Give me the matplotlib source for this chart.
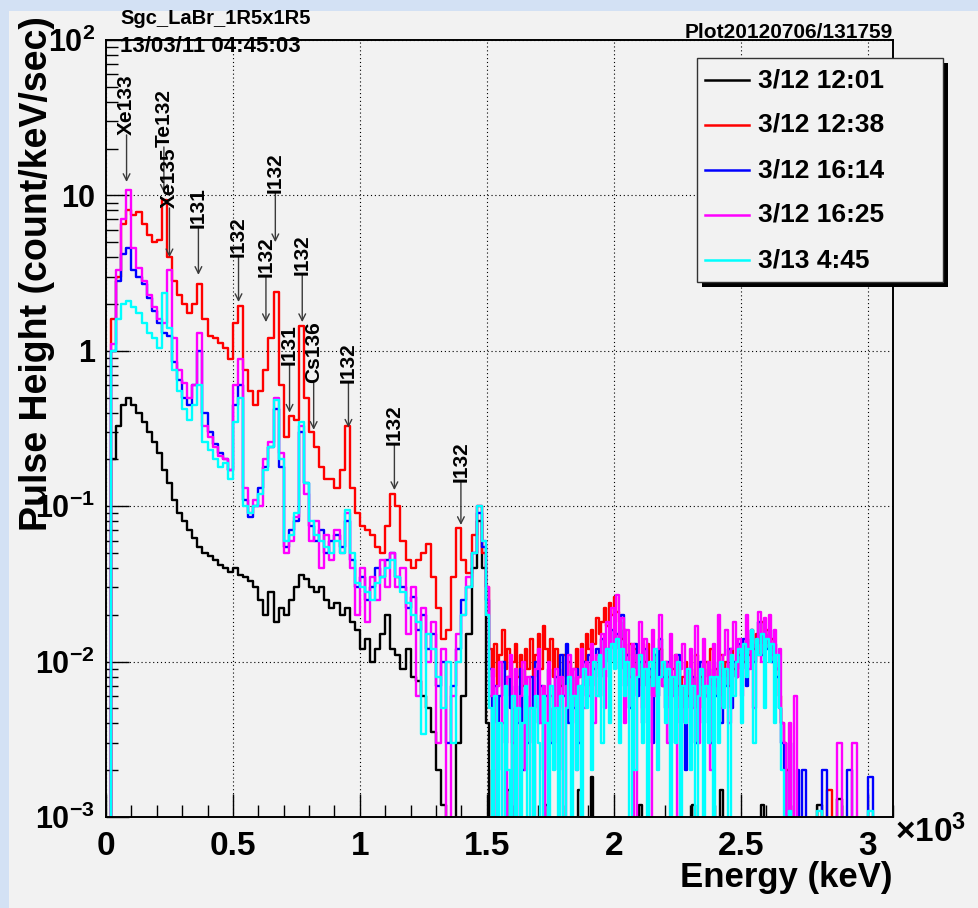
import numpy as np
import matplotlib.pyplot as plt
from matplotlib.patches import Rectangle
from matplotlib.lines import Line2D
from matplotlib.ticker import FixedLocator, LogLocator, NullFormatter, MultipleLocator

plt.rcParams['font.family'] = ['Liberation Sans', 'DejaVu Sans']
plt.rcParams['font.weight'] = 'bold'
plt.rcParams['mathtext.fontset'] = 'custom'
plt.rcParams['mathtext.rm'] = 'Liberation Sans:bold'
plt.rcParams['mathtext.bf'] = 'Liberation Sans:bold'
plt.rcParams['mathtext.it'] = 'Liberation Sans:bold'

# bin centres in keV: 20 keV bins, 10 keV bins in the noisy 1.5-2.75 MeV part, 20 keV above
energy_kev = np.concatenate([np.arange(10, 1500, 20),
                             np.arange(1505, 2750, 10),
                             np.arange(2770, 3100, 20)])

spec_0312_1201 = [
    # 10 - 1490 keV
    0, 0.2, 0.33, 0.45, 0.5, 0.45, 0.4, 0.35, 0.3, 0.26,
    0.22, 0.17, 0.14, 0.11, 0.09, 0.08, 0.07, 0.062, 0.055, 0.05,
    0.048, 0.045, 0.042, 0.04, 0.038, 0.04, 0.036, 0.035, 0.033, 0.03,
    0.025, 0.02, 0.028, 0.018, 0.022, 0.02, 0.025, 0.03, 0.036, 0.034,
    0.03, 0.028, 0.03, 0.025, 0.022, 0.024, 0.02, 0.022, 0.018, 0.016,
    0.012, 0.014, 0.01, 0.012, 0.015, 0.02, 0.012, 0.011, 0.009, 0.012,
    0.008, 0.0075, 0.006, 0.005, 0.0035, 0.002, 0.0012, 0, 0, 0.003,
    0.006, 0.015, 0.04, 0.08, 0.04,
    # 1505 - 2745 keV
    0.004, 0, 0.002, 0, 0, 0, 0, 0, 0.0015, 0,
    0, 0, 0, 0, 0, 0, 0, 0, 0, 0,
    0, 0, 0, 0.0012, 0, 0, 0, 0, 0, 0,
    0, 0, 0, 0, 0, 0, 0.0015, 0, 0, 0,
    0, 0.0018, 0, 0, 0, 0, 0, 0, 0, 0,
    0, 0, 0, 0, 0, 0, 0, 0, 0, 0,
    0.0012, 0, 0, 0, 0, 0, 0, 0, 0, 0,
    0, 0, 0, 0, 0, 0, 0, 0, 0, 0,
    0, 0.0012, 0, 0, 0, 0, 0, 0, 0, 0,
    0, 0, 0.0015, 0, 0, 0, 0, 0, 0, 0,
    0, 0, 0, 0, 0, 0, 0, 0, 0.0012, 0,
    0, 0, 0, 0, 0, 0, 0, 0, 0, 0,
    0, 0, 0, 0, 0,
    # 2770 - 3090 keV
    0, 0, 0.0012, 0, 0, 0, 0.0013, 0, 0, 0, 0, 0, 0, 0, 0, 0, 0]

spec_0312_1238 = [
    0, 1.6, 3.0, 6.5, 8.0, 7.5, 7.8, 6.5, 5.6, 5.0,
    5.2, 9.3, 4.0, 2.8, 2.3, 2.0, 1.75, 2.0, 2.7, 1.6,
    1.25, 1.2, 1.12, 1.05, 0.88, 1.5, 1.95, 0.75, 0.55, 0.45,
    0.55, 0.75, 1.2, 2.4, 0.6, 0.28, 0.38, 0.36, 1.45, 0.5,
    0.3, 0.24, 0.18, 0.15, 0.15, 0.13, 0.17, 0.33, 0.13, 0.09,
    0.075, 0.07, 0.065, 0.055, 0.05, 0.075, 0.12, 0.1, 0.06, 0.045,
    0.04, 0.045, 0.05, 0.057, 0.035, 0.022, 0.014, 0.016, 0.035, 0.072,
    0.045, 0.037, 0.065, 0.1, 0.05,
    0.03, 0.012, 0.008, 0.013, 0.007, 0.011, 0.016, 0.009, 0.012, 0.006,
    0.01, 0.013, 0.008, 0.011, 0.007, 0.012, 0.009, 0.014, 0.008, 0.011,
    0.015, 0.009, 0.017, 0.012, 0.01, 0.014, 0.008, 0.012, 0.009, 0.007,
    0.011, 0.008, 0.01, 0.006, 0.009, 0.012, 0.008, 0.013, 0.01, 0.015,
    0.012, 0.016, 0.013, 0.019, 0.015, 0.018, 0.022, 0.017, 0.024, 0.02,
    0.026, 0.021, 0.018, 0.014, 0.016, 0.011, 0.013, 0.009, 0.012, 0.008,
    0.011, 0.007, 0.01, 0.013, 0.008, 0.006, 0.011, 0.009, 0.012, 0.007,
    0.01, 0.008, 0.006, 0.009, 0.011, 0.007, 0.005, 0.008, 0.01, 0.006,
    0.009, 0.007, 0.011, 0.005, 0.008, 0.006, 0.01, 0.008, 0.012, 0.007,
    0.009, 0.006, 0.011, 0.008, 0.01, 0.007, 0.012, 0.009, 0.008, 0.011,
    0.013, 0.01, 0.014, 0.011, 0.016, 0.012, 0.015, 0.011, 0.018, 0.013,
    0.016, 0.012, 0.014, 0.01, 0.009, 0.006, 0.004, 0.003, 0.002, 0,
    0, 0, 0, 0, 0,
    0, 0, 0, 0, 0.0015, 0, 0, 0, 0, 0, 0, 0, 0, 0, 0, 0, 0]

spec_0312_1614 = [
    0, 1.0, 2.8, 4.2, 4.6, 3.3, 3.0, 2.7, 2.2, 1.8,
    1.5, 1.3, 1.25, 0.85, 0.65, 0.5, 0.45, 0.6, 1.0, 0.4,
    0.3, 0.25, 0.22, 0.2, 0.17, 0.45, 0.6, 0.11, 0.085, 0.1,
    0.13, 0.18, 0.24, 0.42, 0.18, 0.055, 0.07, 0.08, 0.3, 0.14,
    0.075, 0.06, 0.07, 0.05, 0.06, 0.065, 0.055, 0.08, 0.045, 0.03,
    0.035, 0.025, 0.03, 0.04, 0.035, 0.045, 0.05, 0.035, 0.03, 0.022,
    0.026, 0.016, 0.02, 0.012, 0.015, 0.007, 0.01, 0.003, 0.007, 0.012,
    0.025, 0.03, 0.05, 0.09, 0.055,
    0.025, 0.009, 0.004, 0.007, 0.002, 0.006, 0.01, 0.003, 0.008, 0.005,
    0, 0.007, 0.004, 0.009, 0.002, 0.006, 0.003, 0.008, 0.005, 0.01,
    0.004, 0.007, 0.002, 0.006, 0.009, 0.003, 0.005, 0.008, 0.002, 0.011,
    0.006, 0.013, 0.004, 0.008, 0.005, 0.009, 0.003, 0.007, 0.01, 0.006,
    0.011, 0.007, 0.009, 0.012, 0.006, 0.014, 0.008, 0.012, 0.01, 0.016,
    0.012, 0.015, 0.009, 0.02, 0.007, 0.011, 0.005, 0.009, 0.013, 0.006,
    0.01, 0.004, 0.012, 0.007, 0.009, 0.003, 0.011, 0.006, 0.014, 0.008,
    0.005, 0.01, 0.003, 0.008, 0.006, 0.011, 0.004, 0.007, 0.002, 0.009,
    0.005, 0.008, 0.003, 0.007, 0.01, 0.004, 0.006, 0.009, 0.003, 0.008,
    0.006, 0.01, 0.004, 0.009, 0.007, 0.012, 0.005, 0.01, 0.008, 0.013,
    0.009, 0.014, 0.007, 0.012, 0.016, 0.01, 0.013, 0.018, 0.011, 0.015,
    0.012, 0.016, 0.01, 0.013, 0.008, 0.005, 0.003, 0.002, 0.001, 0.003,
    0, 0, 0.002, 0, 0.002,
    0, 0, 0, 0.002, 0, 0, 0, 0, 0.002, 0, 0, 0, 0.0018, 0, 0, 0, 0]

spec_0312_1625 = [
    0, 1.1, 3.3, 7.0, 10.8, 4.6, 3.4, 2.8, 2.3, 1.9,
    1.6, 1.5, 3.3, 1.2, 0.75, 0.62, 0.5, 0.6, 1.3, 0.33,
    0.28, 0.24, 0.21, 0.2, 0.17, 0.6, 0.88, 0.13, 0.09, 0.11,
    0.1, 0.2, 0.26, 0.5, 0.22, 0.05, 0.06, 0.085, 0.33, 0.12,
    0.06, 0.08, 0.04, 0.065, 0.045, 0.07, 0.05, 0.09, 0.04, 0.02,
    0.04, 0.018, 0.035, 0.025, 0.045, 0.03, 0.05, 0.03, 0.04, 0.015,
    0.03, 0.006, 0.022, 0.01, 0.018, 0.003, 0.012, 0, 0.006, 0.015,
    0.02, 0.035, 0.05, 0.1, 0.06,
    0.03, 0.006, 0.009, 0.001, 0.007, 0.01, 0.004, 0, 0.008, 0.011,
    0.003, 0.009, 0, 0.006, 0.01, 0.002, 0.008, 0.005, 0, 0.009,
    0.012, 0.004, 0.007, 0, 0.01, 0.006, 0.003, 0.009, 0.005, 0.008,
    0, 0.007, 0.011, 0.004, 0.009, 0.002, 0.008, 0.012, 0.005, 0.01,
    0.006, 0.013, 0.004, 0.011, 0.008, 0.015, 0.005, 0.018, 0.01, 0.022,
    0.013, 0.027, 0.009, 0.019, 0.004, 0.016, 0.008, 0.013, 0, 0.011,
    0.018, 0.005, 0.014, 0.009, 0, 0.016, 0.006, 0.012, 0.02, 0.007,
    0.01, 0.003, 0.015, 0.006, 0.011, 0, 0.009, 0.013, 0.004, 0.008,
    0.012, 0.005, 0.017, 0.003, 0.009, 0.014, 0.006, 0.01, 0.002, 0.013,
    0.007, 0.02, 0.005, 0.011, 0.016, 0.004, 0.012, 0.018, 0.008, 0.014,
    0.006, 0.011, 0.02, 0.009, 0.015, 0.005, 0.013, 0.021, 0.01, 0.019,
    0.014, 0.02, 0.011, 0.016, 0.009, 0.012, 0.004, 0.003, 0, 0.004,
    0, 0.006, 0, 0, 0,
    0, 0, 0, 0, 0, 0, 0.003, 0, 0, 0.003, 0, 0, 0, 0, 0, 0, 0]

spec_0313_0445 = [
    0, 1.0, 1.6, 2.0, 2.1, 1.9, 1.75, 1.5, 1.3, 1.2,
    1.05, 2.35, 1.4, 0.75, 0.55, 0.42, 0.36, 0.45, 0.6, 0.26,
    0.23, 0.2, 0.18, 0.19, 0.15, 0.35, 0.5, 0.1, 0.09, 0.1,
    0.12, 0.17, 0.24, 0.48, 0.2, 0.06, 0.065, 0.09, 0.35, 0.14,
    0.08, 0.065, 0.06, 0.055, 0.05, 0.06, 0.05, 0.095, 0.05, 0.032,
    0.03, 0.028, 0.025, 0.032, 0.035, 0.04, 0.045, 0.035, 0.028, 0.024,
    0.02, 0.018, 0.0034, 0.015, 0.012, 0.008, 0.005, 0.01, 0.003, 0.01,
    0.02, 0.03, 0.05, 0.1, 0.06,
    0.02, 0.005, 0, 0.006, 0, 0.004, 0, 0.007, 0.002, 0,
    0.006, 0, 0.005, 0, 0.004, 0.007, 0, 0.005, 0.001, 0.006,
    0.003, 0, 0.006, 0.004, 0, 0.007, 0.002, 0.005, 0, 0.006,
    0, 0.005, 0.008, 0, 0.006, 0.002, 0.007, 0, 0.009, 0.005,
    0.008, 0.002, 0.01, 0.006, 0.011, 0.003, 0.009, 0.012, 0.004, 0.013,
    0.009, 0.014, 0.003, 0.012, 0.006, 0.01, 0, 0.009, 0.002, 0.008,
    0.011, 0.003, 0.009, 0, 0.01, 0.007, 0.012, 0.002, 0.008, 0.01,
    0.004, 0.009, 0, 0.008, 0.003, 0.01, 0, 0.007, 0.004, 0.009,
    0.002, 0.007, 0, 0.006, 0.009, 0.001, 0.007, 0.003, 0.008, 0,
    0.008, 0.003, 0.01, 0.005, 0.009, 0, 0.011, 0.006, 0.01, 0.012,
    0.004, 0.013, 0.008, 0.012, 0.016, 0.003, 0.014, 0.011, 0.015, 0.005,
    0.014, 0.01, 0.013, 0.004, 0.011, 0.005, 0.002, 0.001, 0, 0.0011,
    0, 0, 0, 0, 0,
    0, 0, 0.0011, 0, 0, 0, 0, 0, 0, 0, 0, 0, 0.0011, 0, 0, 0, 0]

series = [spec_0312_1201, spec_0312_1238, spec_0312_1614, spec_0312_1625, spec_0313_0445]
series_labels = ['3/12 12:01', '3/12 12:38', '3/12 16:14', '3/12 16:25', '3/13 4:45']
series_colors = ['#000000', '#ff0000', '#0000ff', '#ff00ff', '#00ffff']

# peak annotations: label, energy (keV), label base and arrow tip (count/keV/sec)
peak_labels = ['Xe133', 'Te132', 'Xe135', 'I131', 'I132', 'I132', 'I132',
               'I131', 'I132', 'Cs136', 'I132', 'I132', 'I132']
peak_energy = [81, 228, 250, 364, 522, 630, 667, 723, 773, 818, 955, 1136, 1398]
label_base = [24.5, 20.5, 8.3, 6.2, 4.0, 3.0, 10.4, 0.81, 3.07, 0.62, 0.62, 0.248, 0.143]
arrow_tip = [12.2, 10.4, 4.0, 3.08, 2.06, 1.53, 5.0, 0.40, 1.53, 0.31, 0.32, 0.127, 0.0757]

W, H = 979, 908
bg = '#f2f2f2'
fig = plt.figure(figsize=(W / 100, H / 100), dpi=100, facecolor=bg)

# window border strips
fig.patches.append(Rectangle((0, 1 - 11 / H), 1, 11 / H, transform=fig.transFigure,
                             facecolor='#d3e1f4', edgecolor='none', zorder=0))
fig.patches.append(Rectangle((0, 0), 9 / W, 1, transform=fig.transFigure,
                             facecolor='#d3e1f4', edgecolor='none', zorder=0))

ax = fig.add_axes([106 / W, 1 - 817 / H, (893 - 106) / W, (817 - 40) / H])
ax.set_facecolor(bg)

x = energy_kev / 1000.0
for vals, col, lab in zip(series, series_colors, series_labels):
    ax.plot(x, vals, drawstyle='steps-mid', color=col, lw=1.7, label=lab)

ax.set_yscale('log')
ax.set_xlim(0, 3.1)
ax.set_ylim(1e-3, 1e2)

for lab, e, yb, yt in zip(peak_labels, peak_energy, label_base, arrow_tip):
    ax.annotate('', xy=(e / 1000.0, yt), xytext=(e / 1000.0, yb),
                arrowprops=dict(arrowstyle='->', color='#3a3a3a', lw=1.0,
                                shrinkA=0, shrinkB=0, mutation_scale=12))
    ax.text(e / 1000.0, yb, lab, rotation=90, ha='center', va='bottom',
            fontsize=15, fontweight='bold', color='black')

# axes styling, ROOT like
ax.xaxis.set_major_locator(FixedLocator([0, 0.5, 1, 1.5, 2, 2.5, 3]))
ax.set_xticklabels(['0', '0.5', '1', '1.5', '2', '2.5', '3'])
ax.xaxis.set_minor_locator(MultipleLocator(0.1))
ax.yaxis.set_major_locator(FixedLocator([1e-3, 1e-2, 1e-1, 1, 10, 100]))
ax.set_yticklabels([r'$10^{-3}$', r'$10^{-2}$', r'$10^{-1}$', '1', '10', r'$10^{2}$'])
ax.yaxis.set_minor_locator(LogLocator(base=10, subs=np.arange(2, 10)))
ax.yaxis.set_minor_formatter(NullFormatter())
ax.tick_params(which='both', direction='in', top=False, right=False, width=1.0)
ax.tick_params(which='major', length=16.5)
ax.tick_params(which='minor', length=8.5)
ax.tick_params(axis='x', pad=10, labelsize=24)
ax.tick_params(axis='y', pad=8, labelsize=22)
ax.grid(True, which='major', color='black', lw=0.8, linestyle=(0, (1, 2.5)))
for sp in ax.spines.values():
    sp.set_linewidth(1.4)

fig.text(893 / W, 1 - 878 / H, 'Energy (keV)', ha='right', va='center',
         fontsize=25, fontweight='bold')
fig.text(37 / W, 1 - 16 / H, 'Pulse Height (count/keV/sec)', rotation=90,
         ha='center', va='top', fontsize=27, fontweight='bold')
fig.text(895 / W, 1 - 832 / H, r'$\times10^{3}$', ha='left', va='center', fontsize=24)

fig.text(120 / W, 1 - 19 / H, 'Sgc_LaBr_1R5x1R5', ha='left', va='center', fontsize=14.5)
fig.text(120 / W, 1 - 47 / H, '13/03/11 04:45:03', ha='left', va='center', fontsize=16)
fig.text(893 / W, 1 - 32 / H, 'Plot20120706/131759', ha='right', va='center', fontsize=15)

# legend box with solid shadow
lx0, lx1, ly0, ly1 = 697, 943, 58, 282
fig.patches.append(Rectangle((lx0 / W + 5 / W, 1 - (ly1 + 5) / H), (lx1 - lx0) / W, (ly1 - ly0) / H,
                             transform=fig.transFigure, facecolor='black', edgecolor='none', zorder=5))
fig.patches.append(Rectangle((lx0 / W, 1 - ly1 / H), (lx1 - lx0) / W, (ly1 - ly0) / H,
                             transform=fig.transFigure, facecolor=bg, edgecolor='#333333',
                             lw=1.0, zorder=6))
for k, (lab, col) in enumerate(zip(series_labels, series_colors)):
    yy = 1 - (80 + 45 * k) / H
    fig.lines.append(Line2D([705 / W, 749 / W], [yy, yy], transform=fig.transFigure,
                            color=col, lw=1.8, zorder=7))
    fig.text(758 / W, yy, lab, ha='left', va='center', fontsize=19, zorder=7)

fig.savefig('out.png', dpi=100, facecolor=bg)
